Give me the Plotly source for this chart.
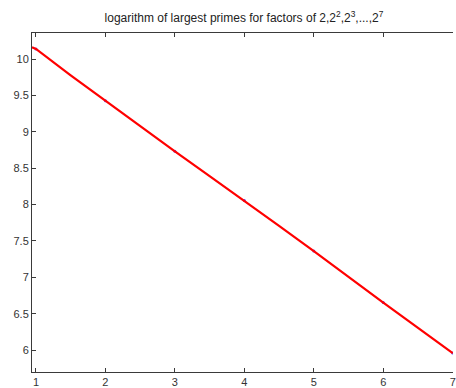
import plotly.graph_objects as go

# integer factor exponents and read values (blue points)
x_pts = [1, 2, 3, 4, 5, 6, 7]
y_pts = [10.141, 9.428, 8.733, 8.056, 7.361, 6.653, 5.958]

# red curve
x_line = [0.943, 1, 1.5, 2, 2.5, 3, 3.5, 4, 4.5, 5, 5.5, 6, 6.5, 7]
y_line = [10.165, 10.141, 9.778, 9.428, 9.080, 8.733, 8.392, 8.056, 7.708, 7.361, 7.003, 6.653, 6.305, 5.958]

x_ticks = [1, 2, 3, 4, 5, 6, 7]
y_ticks = [6, 6.5, 7, 7.5, 8, 8.5, 9, 9.5, 10]
y_tick_text = ["6", "6.5", "7", "7.5", "8", "8.5", "9", "9.5", "10"]

title_text = "logarithm of largest primes for factors of 2,2<sup>2</sup>,2<sup>3</sup>,...,2<sup>7</sup>"

fig = go.Figure()
fig.add_trace(go.Scatter(x=x_pts, y=y_pts, mode="markers",
                         marker=dict(size=3, color="#6040ff"), showlegend=False))
fig.add_trace(go.Scatter(x=x_line, y=y_line, mode="lines",
                         line=dict(color="#ff0000", width=2.2), showlegend=False))

axis_common = dict(showgrid=False, zeroline=False, showline=True, linecolor="#3a3a3a",
                   linewidth=1, ticks="inside", ticklen=4, tickcolor="#3a3a3a",
                   ticklabeloverflow="allow",
                   tickfont=dict(family="Liberation Sans, Arial", size=11, color="#333333"))

fig.update_xaxes(range=[0.943, 7.004], tickvals=x_ticks, mirror="ticks", **axis_common)
fig.update_yaxes(range=[5.698, 10.361], tickvals=y_ticks, ticktext=y_tick_text, mirror=False, **axis_common)

fig.update_layout(
    width=456, height=388,
    margin=dict(l=32, r=0, t=33, b=16, pad=0),
    paper_bgcolor="white", plot_bgcolor="white",
    title=dict(text=title_text, x=0.535, xanchor="center", y=0.955, yanchor="middle",
               font=dict(family="Liberation Sans, Arial", size=12, color="#222222")),
)

fig.write_html("out.html")
